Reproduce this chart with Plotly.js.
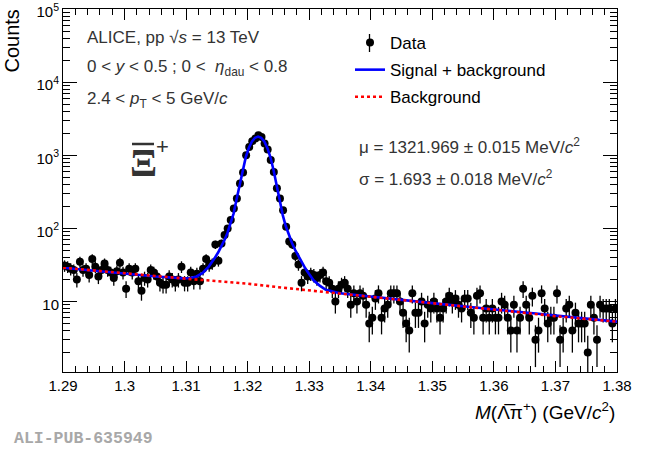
<!DOCTYPE html>
<html>
<head>
<meta charset="utf-8">
<script src="https://cdn.plot.ly/plotly-3.0.1.min.js"></script>
<style>html,body{margin:0;padding:0;background:#fff;}#chart{width:650px;height:449px;}</style>
</head>
<body>
<div id="chart"></div>
<script>
// ---- binning ----
const binLow = 1.29;
const binWidth = 0.0005;

// ---- data: counts per 0.5 MeV bin, 1.290 - 1.380 GeV/c^2 ----
const counts = [
  31,30,28,27,20,35,27,28,23,38,
  30,22,27,33,27,25,21,26,34,25,
  15,28,25,28,19,14,21,20,27,25,
  22,18,17,17,22,20,18,20,30,18,
  18,25,19,24,19,28,38,31,33,60,
  36,62,81,100,130,187,256,410,580,1000,
  1300,1560,1700,1880,1780,1450,1200,860,590,355,
  256,177,105,66,60,42,32,18,25,22,
  24,23,21,23,25,19,18,15,10,15,
  17,18,15,9,13,10,13,12,9,5,
  6,11,13,6,8,9,13,13,13,10,
  7,5,4,13,7,7,10,5,9,8,
  10,8,6,8,10,12,10,11,9,8,
  11,11,7,6,12,13,6,8,6,8,
  6,6,10,9,6,4,9,4,6,15,
  9,6,12,3,4,13,8,5,6,6,
  13,3,4,8,9,4,7,5,5,5,
  2,9,6,3,9,8,8,8,5,8
];

// ---- fit curve: signal + background ----
const fitX = [1.29,1.295,1.30,1.305,1.3097,1.3107,1.3117,1.3127,1.3137,1.3142,1.3147,1.3152,1.3157,1.3162,1.3167,1.3172,1.3177,1.3182,1.3187,1.3192,1.3197,1.3202,1.3207,1.3212,1.3217,1.3222,1.3227,1.3232,1.3237,1.3242,1.3247,1.3252,1.3257,1.3262,1.3267,1.3272,1.3277,1.3282,1.3287,1.3292,1.3297,1.3307,1.3317,1.3327,1.335,1.34,1.345,1.35,1.355,1.36,1.365,1.37,1.375,1.38];
const fitY = [29,26.5,24,22,20.7,21.0,22.0,24.6,30.3,34.2,40,46.8,55.7,68.5,86,113,158,250,398,638,948,1267,1547,1737,1802,1734,1545,1262,940,630,390,243,152,107,80,63,51,42,35.5,30,25.8,19.5,16.5,14.5,13,11.8,10.5,9.5,8.6,7.8,7,6.3,5.8,5.3];

// ---- background curve ----
const bgX = [1.29,1.295,1.30,1.305,1.31,1.315,1.32,1.325,1.33,1.335,1.34,1.345,1.35,1.355,1.36,1.365,1.37,1.375,1.38];
const bgY = [29,26.5,24,22,20.5,19,17.5,15.7,14.2,13,11.8,10.5,9.5,8.6,7.8,7,6.3,5.8,5.3];

// ---- tick labels ----
const xTickVals = [1.29,1.30,1.31,1.32,1.33,1.34,1.35,1.36,1.37,1.38];
const xTickText = ["1.29","1.3","1.31","1.32","1.33","1.34","1.35","1.36","1.37","1.38"];
const yTickVals = [10,100,1000,10000,100000];
const yTickText = ["10","10<sup>2</sup>","10<sup>3</sup>","10<sup>4</sup>","10<sup>5</sup>"];

const binCenters = counts.map((c,i)=> binLow + binWidth*(i+0.5));
const errs = counts.map(c=>Math.sqrt(c));

// layout geometry
const W=650,H=449, L=63, R=33, T=9, B=77;
const pw = W-L-R, ph = H-T-B;
const PX = x => (x-L)/pw;
const PY = y => (H-B-y)/ph;

const FONT = "Liberation Sans, Arial, Helvetica, sans-serif";

const traces = [
  {
    x: binCenters, y: counts, type:'scatter', mode:'markers', name:'Data',
    marker:{color:'black', size:8},
    error_y:{type:'data', array:errs, visible:true, color:'black', thickness:1.3, width:0},
    legendgroup:'a'
  },
  {
    x: fitX, y: fitY, type:'scatter', mode:'lines', name:'Signal + background',
    line:{color:'rgb(0,0,255)', width:2.6}, legendgroup:'b'
  },
  {
    x: bgX, y: bgY, type:'scatter', mode:'lines', name:'Background',
    line:{color:'rgb(255,0,0)', width:2.6, dash:'dot'}, legendgroup:'c'
  }
];

const txtCol = '#333333';
const annotations = [
  {text:'ALICE, pp √<i>s</i> = 13 TeV', x:PX(85), y:PY(37), xanchor:'left', yanchor:'middle', font:{size:17, color:txtCol, family:FONT}},
  {text:'0 < <i>y</i> < 0.5 ; 0 <  <i>η</i><sub>dau</sub> < 0.8', x:PX(85), y:PY(68), xanchor:'left', yanchor:'middle', font:{size:17, color:txtCol, family:FONT}},
  {text:'2.4 < <i>p</i><sub>T</sub> < 5 GeV/<i>c</i>', x:PX(85), y:PY(100), xanchor:'left', yanchor:'middle', font:{size:17, color:txtCol, family:FONT}},
  {text:'μ = 1321.969 ± 0.015 MeV/<i>c</i><sup>2</sup>', x:PX(357), y:PY(146), xanchor:'left', yanchor:'middle', font:{size:17, color:txtCol, family:FONT}},
  {text:'σ = 1.693 ± 0.018 MeV/<i>c</i><sup>2</sup>', x:PX(357), y:PY(178), xanchor:'left', yanchor:'middle', font:{size:17, color:txtCol, family:FONT}},
  {text:'<b>Ξ</b>', x:PX(143), y:PY(163), xanchor:'center', yanchor:'middle', font:{size:40, color:'#333', family:'Liberation Serif, serif'}},
  {text:'+', x:PX(162), y:PY(146), xanchor:'center', yanchor:'middle', font:{size:22, color:'#333', family:FONT}},
  {text:'<i>M</i>(Λ\u0305π<sup>+</sup>) (GeV/<i>c</i><sup>2</sup>)', x:PX(617), y:PY(411), xanchor:'right', yanchor:'middle', font:{size:19, color:'black', family:FONT}},
  {text:'Counts', x:PX(11), y:PY(8), xanchor:'center', yanchor:'top', textangle:-90, font:{size:20, color:'black', family:FONT}},
  {text:'ALI-PUB-635949', x:PX(12), y:PY(438), xanchor:'left', yanchor:'middle', font:{size:16.5, color:'#a8a8a8', family:'Liberation Mono, Courier New, monospace', weight:'bold'}}
].map(a=>Object.assign({xref:'paper', yref:'paper', showarrow:false}, a));

const shapes = [
  // antiparticle bar over the Xi
  {type:'line', xref:'paper', yref:'paper', x0:PX(132), x1:PX(154), y0:PY(144), y1:PY(144), line:{color:'#333', width:2.5}},
  // vertical error-bar stroke of the legend's Data symbol
  {type:'line', xref:'paper', yref:'paper', x0:PX(369.5), x1:PX(369.5), y0:PY(34), y1:PY(52), line:{color:'black', width:1.3}}
];

const layout = {
  width:W, height:H,
  margin:{l:L, r:R, t:T, b:B, pad:0},
  paper_bgcolor:'white', plot_bgcolor:'white',
  font:{family:FONT, color:'black'},
  showlegend:true,
  legend:{x:PX(350), y:PY(25), xanchor:'left', yanchor:'top', bgcolor:'rgba(0,0,0,0)', font:{size:17, color:'black', family:FONT}, traceorder:'grouped', tracegroupgap:2},
  xaxis:{
    range:[1.29,1.38], tickmode:'array', tickvals:xTickVals, ticktext:xTickText,
    ticks:'inside', ticklen:11, tickwidth:1, tickcolor:'black',
    minor:{ticks:'inside', ticklen:6, tick0:1.29, dtick:0.002, tickcolor:'black', tickwidth:1},
    showline:true, linecolor:'black', linewidth:1, mirror:'ticks', ticklabeloverflow:'allow',
    showgrid:false, zeroline:false, tickfont:{size:15, family:FONT, color:'black'}
  },
  yaxis:{
    type:'log', range:[0.036,5.0005], tickmode:'array', tickvals:yTickVals, ticktext:yTickText,
    ticks:'inside', ticklen:14, tickwidth:1, tickcolor:'black', ticklabelshift:3,
    minor:{ticks:'inside', ticklen:7, dtick:'D1', tickcolor:'black', tickwidth:1},
    showline:true, linecolor:'black', linewidth:1, mirror:'ticks', ticklabeloverflow:'allow',
    showgrid:false, zeroline:false, tickfont:{size:15, family:FONT, color:'black'}
  },
  annotations: annotations,
  shapes: shapes
};

Plotly.newPlot('chart', traces, layout, {staticPlot:true, displayModeBar:false});
</script>
</body>
</html>
